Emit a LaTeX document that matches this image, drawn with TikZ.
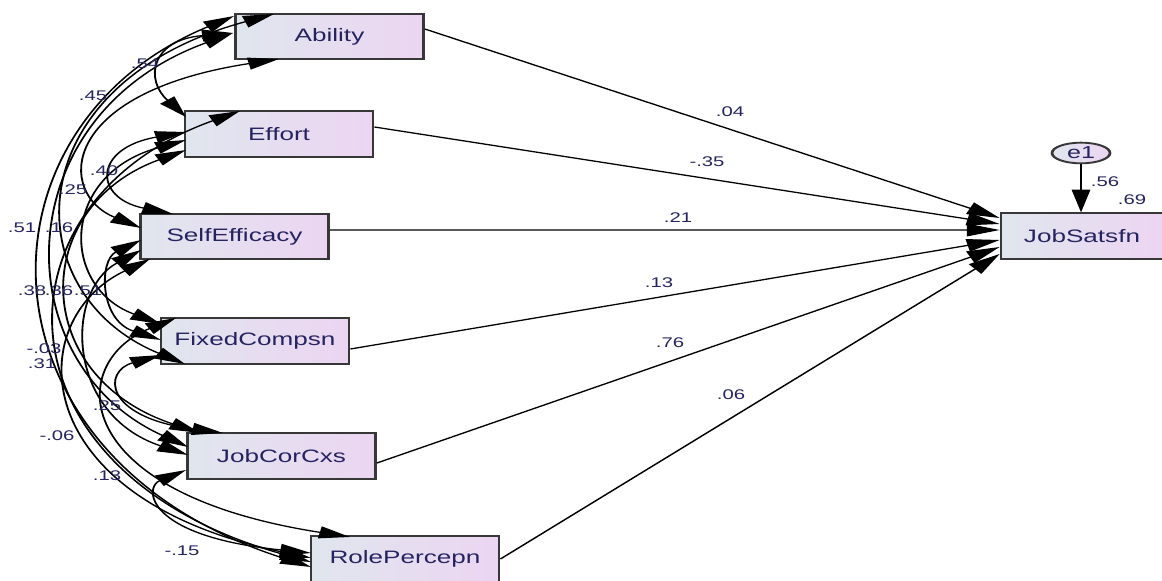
\documentclass[tikz,border=0pt]{standalone}
\usepackage{fontspec}
\setmainfont{Liberation Sans}
\usetikzlibrary{arrows.meta,shapes.geometric}
\definecolor{txt}{RGB}{38,36,96}
\definecolor{bdr}{RGB}{55,55,55}
\definecolor{fillL}{RGB}{224,230,238}
\definecolor{fillR}{RGB}{236,213,242}
\begin{document}
\begin{tikzpicture}[x=0.75pt,y=-0.75pt]
\fill[white] (0,0) rectangle (1162,581);
\useasboundingbox (0,0) rectangle (1162,581);
\begin{scope}[x=0.51724pt, y=-0.75pt, transform canvas={xscale=1.45},
  var/.style={draw=bdr, line width=1.4pt, left color=fillL, right color=fillR,
    minimum width=97.3pt, minimum height=34pt, inner sep=0pt, text=txt,
    font=\fontsize{13.5}{15}\selectfont},
  lbl/.style={text=txt, font=\fontsize{10.5}{12}\selectfont, inner sep=0pt},
  cov/.style={line width=0.95pt, {Triangle[length=16pt,width=9pt]}-{Triangle[length=16pt,width=9pt]}},
  reg/.style={line width=0.95pt, -{Triangle[length=17pt,width=9.5pt]}}]
% variables
\node[var] (nA) at (329.5,36.5) {Ability};
\node[var] (nE) at (279,134) {Effort};
\node[var] (nS) at (234.5,236.5) {SelfEfficacy};
\node[var] (nF) at (255,341) {FixedCompsn};
\node[var] (nJ) at (281.5,456) {JobCorCxs};
\node[var] (nR) at (405,559) {RolePercepn};
\node[var, minimum width=83.8pt] (nY) at (1082,236) {JobSatsfn};
\node[ellipse, draw=bdr, line width=1.4pt, left color=fillL, right color=fillR,
  minimum width=30pt, minimum height=15.5pt, inner sep=0pt, text=txt,
  font=\fontsize{13}{15}\selectfont] (e1) at (1081,153) {e1};
% attachment points of the covariance arcs
\coordinate (A1) at (234,16);  \coordinate (A2) at (233,33);
\coordinate (A3) at (274,14);  \coordinate (A4) at (279,59);
\coordinate (E1) at (186,117); \coordinate (E2) at (186,132);
\coordinate (E3) at (186,140); \coordinate (E4) at (240,111);
\coordinate (E5) at (186,150);
\coordinate (S1) at (173,214); \coordinate (S2) at (141,228);
\coordinate (S3) at (141,240); \coordinate (S4) at (141,250);
\coordinate (S5) at (150,259);
\coordinate (F1) at (161,324); \coordinate (F2) at (176,318);
\coordinate (F3) at (161,340); \coordinate (F4) at (185,364);
\coordinate (F5) at (161,355);
\coordinate (J1) at (223,433); \coordinate (J2) at (200,433);
\coordinate (J3) at (188,447); \coordinate (J4) at (188,455);
\coordinate (J5) at (186,470);
\coordinate (R1) at (311,553); \coordinate (R2) at (311,558);
\coordinate (R3) at (311,562); \coordinate (R4) at (311,567);
\coordinate (R5) at (350,537);
% covariances
\draw[cov] (A1) .. controls (-33,126) and (-33,457) .. (R4);
\draw[cov] (A2) .. controls (4.5,116) and (4.5,364) .. (J3);
\draw[cov] (A3) .. controls (14,84) and (14,294) .. (F4);
\draw[cov] (A4) .. controls (57,93) and (57,194) .. (S2);
\draw[cov] (A2) .. controls (150,40) and (145,80) .. (E1);
\draw[cov] (E2) .. controls (93,148) and (93,198) .. (S1);
\draw[cov] (E3) .. controls (60,175) and (60,287) .. (F1);
\draw[cov] (E5) .. controls (29,207) and (29,376) .. (J2);
\draw[cov] (E4) .. controls (-12,201) and (-12,472) .. (R3);
\draw[cov] (S3) .. controls (99,260) and (99,320) .. (F3);
\draw[cov] (S4) .. controls (65,291) and (65,414) .. (J4);
\draw[cov] (S5) .. controls (23,319) and (23,498) .. (R2);
\draw[cov] (F5) .. controls (103,371) and (103,417) .. (J1);
\draw[cov] (F2) .. controls (66,362) and (66,493) .. (R5);
\draw[cov] (J5) .. controls (144,487) and (144,536) .. (R1);
% regressions
\draw[reg] ([yshift=5.6pt]nA.east) -- ([yshift=13.5pt]nY.west);
\draw[reg] ([yshift=5.25pt]nE.east) -- ([yshift=9pt]nY.west);
\draw[reg] ([yshift=4.9pt]nS.east) -- ([yshift=4.5pt]nY.west);
\draw[reg] ([yshift=-6pt]nF.east) -- ([yshift=-3pt]nY.west);
\draw[reg] ([yshift=-5.25pt]nJ.east) -- ([yshift=-8.25pt]nY.west);
\draw[reg] (nR.east) -- ([yshift=-13.5pt]nY.west);
\draw[reg] (e1.south) -- (e1.south |- nY.north);
% regression labels
\node[lbl] (p1) at (730,112) {.04};
\node[lbl] (p2) at (707,162) {-.35};
\node[lbl] (p3) at (678,218) {.21};
\node[lbl] (p4) at (659,283) {.13};
\node[lbl] (p5) at (670,343) {.76};
\node[lbl] (p6) at (731,395) {.06};
\node[lbl] (p7) at (1105,182) {.56};
\node[lbl] (p8) at (1132,200) {.69};
% covariance labels
\node[lbl] (c1) at (145,64) {.54};
\node[lbl] (c2) at (93,96) {.45};
\node[lbl] (c3) at (104,171) {.40};
\node[lbl] (c4) at (73,190) {.25};
\node[lbl] (c5) at (22,228) {.51};
\node[lbl] (c6) at (59,228) {.16};
\node[lbl] (c7) at (32,291) {.38};
\node[lbl] (c8) at (59,291) {.36};
\node[lbl] (c9) at (88,291) {.51};
\node[lbl] (c10) at (44,349) {-.03};
\node[lbl] (c11) at (42,364) {.31};
\node[lbl] (c12) at (107,406) {.25};
\node[lbl] (c13) at (57,436) {-.06};
\node[lbl] (c14) at (107,476) {.13};
\node[lbl] (c15) at (182,551) {-.15};
\end{scope}
\end{tikzpicture}
\end{document}
